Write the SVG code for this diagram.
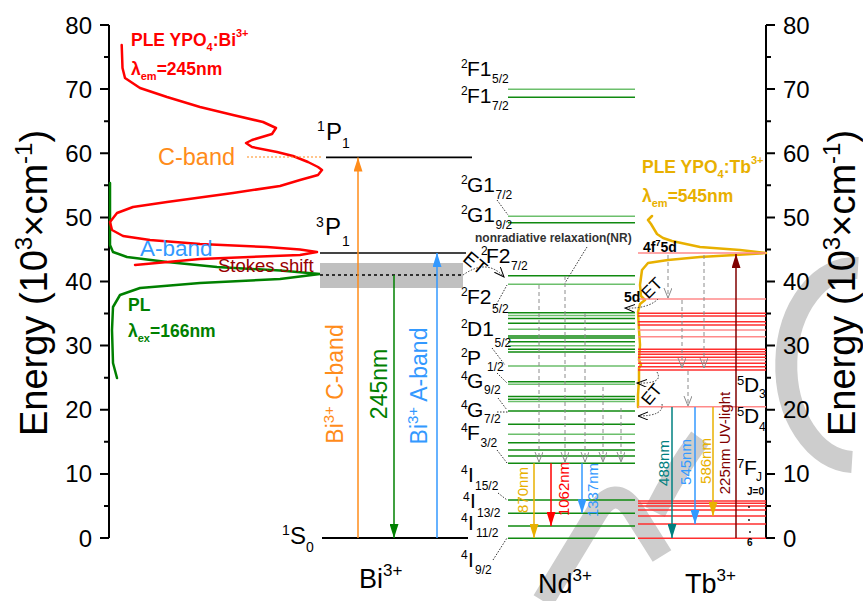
<svg xmlns="http://www.w3.org/2000/svg" width="863" height="601" viewBox="0 0 863 601">
<style>
  text { font-family: "Liberation Sans", Arial, sans-serif; fill: #000; }
  .tick { font-size: 24px; }
  .axt { font-size: 38px; }
  .lv { font-size: 21px; }
  .lvs { font-size: 12px; }
  .blv { font-size: 24px; }
  .blvs { font-size: 14px; }
  .bold { font-weight: bold; }
  .ax { stroke: #000; stroke-width: 2; fill: none; }
  .nd { stroke: #108a10; stroke-width: 1.6; }
  .ndl { stroke: #6cbf6c; stroke-width: 1.6; }
  .tb { stroke: #ff3030; stroke-width: 1.4; }
  .tbl { stroke: #ff8a8a; stroke-width: 1.6; }
  .lead { stroke: #333; stroke-width: 1; stroke-dasharray: 1.5 1.5; fill: none; }
  .nr { stroke: #8c8c8c; stroke-width: 1; stroke-dasharray: 4 3; fill: none; }
  .curve { fill: none; stroke-width: 2.5; stroke-linejoin: round; stroke-linecap: round; }
  .wm { fill: none; stroke: #cdcdcd; stroke-width: 22; stroke-linejoin: round; }
</style>
<defs>
  <marker id="ah-orange" markerUnits="userSpaceOnUse" markerWidth="14" markerHeight="9" refX="14" refY="4.5" orient="auto"><path d="M0,0 L14,4.5 L0,9 z" fill="#ff8c1a"/></marker>
  <marker id="ah-green" markerUnits="userSpaceOnUse" markerWidth="14" markerHeight="9" refX="14" refY="4.5" orient="auto"><path d="M0,0 L14,4.5 L0,9 z" fill="#008000"/></marker>
  <marker id="ah-blue" markerUnits="userSpaceOnUse" markerWidth="14" markerHeight="9" refX="14" refY="4.5" orient="auto"><path d="M0,0 L14,4.5 L0,9 z" fill="#3399ff"/></marker>
  <marker id="ah-gold" markerUnits="userSpaceOnUse" markerWidth="14" markerHeight="9" refX="14" refY="4.5" orient="auto"><path d="M0,0 L14,4.5 L0,9 z" fill="#e8b000"/></marker>
  <marker id="ah-red" markerUnits="userSpaceOnUse" markerWidth="14" markerHeight="9" refX="14" refY="4.5" orient="auto"><path d="M0,0 L14,4.5 L0,9 z" fill="#ff0000"/></marker>
  <marker id="ah-teal" markerUnits="userSpaceOnUse" markerWidth="14" markerHeight="9" refX="14" refY="4.5" orient="auto"><path d="M0,0 L14,4.5 L0,9 z" fill="#008080"/></marker>
  <marker id="ah-dred" markerUnits="userSpaceOnUse" markerWidth="14" markerHeight="9" refX="14" refY="4.5" orient="auto"><path d="M0,0 L14,4.5 L0,9 z" fill="#800000"/></marker>
  <marker id="ov-gray" markerUnits="userSpaceOnUse" markerWidth="12" markerHeight="9" refX="10" refY="4" orient="auto"><path d="M0,0 L10,4 L0,8" fill="none" stroke="#8c8c8c" stroke-width="1"/></marker>
  <marker id="ov-black" markerUnits="userSpaceOnUse" markerWidth="12" markerHeight="9" refX="10" refY="4" orient="auto"><path d="M0,0 L10,4 L0,8" fill="none" stroke="#000" stroke-width="1"/></marker>
</defs>

<rect width="863" height="601" fill="#fff"/>

<!-- faint background strokes -->
<g id="watermark">
  <path class="wm" d="M543,601 L597,512 Q615,484 633,510 L662,556"/>
  <path class="wm" d="M655,512 Q676,470 700,438"/>
  <path class="wm" d="M858,268 A68,96 0 0 0 852,462"/>
</g>

<!-- axes -->
<g id="axis-left">
  <path class="ax" d="M109,25 V538"/>
  <path class="ax" d="M100,25 H109 M100,89.1 H109 M100,153.2 H109 M100,217.4 H109 M100,281.5 H109 M100,345.6 H109 M100,409.8 H109 M100,473.9 H109 M100,538 H109"/>
  <path class="ax" d="M104,57 H109 M104,121.2 H109 M104,185.3 H109 M104,249.4 H109 M104,313.6 H109 M104,377.7 H109 M104,441.8 H109 M104,505.9 H109"/>
  <g text-anchor="end">
    <text class="tick" x="92" y="33.5">80</text>
    <text class="tick" x="92" y="97.6">70</text>
    <text class="tick" x="92" y="161.7">60</text>
    <text class="tick" x="92" y="225.9">50</text>
    <text class="tick" x="92" y="290">40</text>
    <text class="tick" x="92" y="354.1">30</text>
    <text class="tick" x="92" y="418.3">20</text>
    <text class="tick" x="92" y="482.4">10</text>
    <text class="tick" x="92" y="546.5">0</text>
  </g>
  <text class="axt" transform="translate(47,283) rotate(-90)" text-anchor="middle">Energy (10<tspan font-size="24" dy="-15">3</tspan><tspan dy="15">×cm</tspan><tspan font-size="24" dy="-15">-1</tspan><tspan dy="15">)</tspan></text>
</g>

<g id="axis-right">
  <path class="ax" d="M766,25 V538"/>
  <path class="ax" d="M766,25 H775 M766,89.1 H775 M766,153.2 H775 M766,217.4 H775 M766,281.5 H775 M766,345.6 H775 M766,409.8 H775 M766,473.9 H775 M766,538 H775"/>
  <path class="ax" d="M766,57 H771 M766,121.2 H771 M766,185.3 H771 M766,249.4 H771 M766,313.6 H771 M766,377.7 H771 M766,441.8 H771 M766,505.9 H771"/>
  <text class="tick" x="783" y="33.5">80</text>
  <text class="tick" x="783" y="97.6">70</text>
  <text class="tick" x="783" y="161.7">60</text>
  <text class="tick" x="783" y="225.9">50</text>
  <text class="tick" x="783" y="290">40</text>
  <text class="tick" x="783" y="354.1">30</text>
  <text class="tick" x="783" y="418.3">20</text>
  <text class="tick" x="783" y="482.4">10</text>
  <text class="tick" x="783" y="546.5">0</text>
  <text class="axt" transform="translate(855,283) rotate(-90)" text-anchor="middle">Energy (10<tspan font-size="24" dy="-15">3</tspan><tspan dy="15">×cm</tspan><tspan font-size="24" dy="-15">-1</tspan><tspan dy="15">)</tspan></text>
</g>

<!-- excitation / emission spectra -->
<g id="spectra">
  <polyline class="curve" stroke="#008000" points="110,183 110,245 113,252 127,257 167,262 217,267 280,270.5 320,274 280,279 200,283 140,288 120,295 113,307 112,330 113,363 117,378"/>
  <polyline class="curve" stroke="#ff0000" points="121.7,45 122.5,68 125,78 140,88 167,97 200,107 233,115 263,122 276,128 272,134 252,140 246,143 252,147 277,152 293,156 308,162 318,167 322,170 318,175 300,180 280,186 233,193 167,202 133,207 117,213 110,222 112,230 123,236 150,240 200,244 267,247 300,249.5 317,252 300,255 200,259 135,265"/>
  <polyline class="curve" stroke="#e8b000" stroke-width="2" points="652,216 648,220 651,224 654,229 657,234 663,238 672,241 700,247 740,250 766,253 735,255 700,257 668,260 648,263 642,270 640,285 641,296 645,300 640,304 638,312 639,330 640,345 639,360 641,365 639,368 639,380 638,395 638,407"/>
  <text class="bold" x="131" y="46" font-size="17.5" style="fill:#ff0000">PLE YPO<tspan font-size="11" dy="5">4</tspan><tspan dy="-5">:Bi</tspan><tspan font-size="11" dy="-9">3+</tspan></text>
  <text class="bold" x="131" y="75" font-size="17.5" style="fill:#ff0000">λ<tspan font-size="11" dy="5">em</tspan><tspan dy="-5">=245nm</tspan></text>
  <text class="bold" x="128" y="311" font-size="17.5" style="fill:#008000">PL</text>
  <text class="bold" x="128" y="337" font-size="17.5" style="fill:#008000">λ<tspan font-size="11" dy="5">ex</tspan><tspan dy="-5">=166nm</tspan></text>
  <text class="bold" x="642" y="173" font-size="17.5" style="fill:#e8b000">PLE YPO<tspan font-size="11" dy="5">4</tspan><tspan dy="-5">:Tb</tspan><tspan font-size="11" dy="-9">3+</tspan></text>
  <text class="bold" x="642" y="202" font-size="17.5" style="fill:#e8b000">λ<tspan font-size="11" dy="5">em</tspan><tspan dy="-5">=545nm</tspan></text>
  <text x="158" y="165" font-size="23.5" style="fill:#ff8c1a">C-band</text>
  <text x="140" y="256" font-size="22.5" style="fill:#3399ff">A-band</text>
  <text x="218" y="272" font-size="18.5" style="fill:#990000">Stokes shift</text>
  <path d="M247,157 H323" stroke="#ff8c1a" stroke-width="1.2" stroke-dasharray="2 2"/>
</g>

<!-- Bi3+ levels -->
<g id="bi-levels">
  <rect x="320" y="263" width="143" height="25" fill="#c0c0c0"/>
  <path d="M326,157.3 H472" stroke="#000" stroke-width="1.8"/>
  <path d="M320,253 H466" stroke="#444" stroke-width="2"/>
  <path d="M320,275 H463" stroke="#000" stroke-width="1.3" stroke-dasharray="3 3"/>
  <path d="M322,538 H468" stroke="#000" stroke-width="2"/>
  <text class="blvs" x="317" y="131">1</text><text class="blv" x="326" y="140">P</text><text class="blvs" x="342" y="148">1</text>
  <text class="blvs" x="316" y="227">3</text><text class="blv" x="325" y="235">P</text><text class="blvs" x="342" y="246">1</text>
  <text class="blvs" x="282" y="535">1</text><text class="blv" x="290" y="544">S</text><text class="blvs" x="306" y="552">0</text>
  <text x="359" y="588" font-size="27">Bi<tspan font-size="17" dy="-12">3+</tspan></text>
</g>

<!-- Nd3+ levels -->
<g id="nd-levels">
  <path class="ndl" d="M508,89.3 H635 M508,216.3 H635 M508,284.3 H635 M508,315.5 H635 M508,329.3 H635 M508,345.7 H635 M508,366 H635 M508,384.3 H635 M508,434.3 H635"/>
  <path class="ndl" stroke-width="2.5" d="M508,401.5 H635"/>
  <path class="nd" d="M508,97.3 H635 M508,222.8 H635 M508,275.7 H635 M508,318.5 H635 M508,323.3 H635 M508,336 H635 M508,341.7 H635 M508,349.3 H635 M508,381.7 H635 M508,396.5 H635 M508,399.2 H635 M508,411 H635 M508,424.3 H635 M508,442.7 H635 M508,450 H635 M508,456 H635 M508,463.3 H635 M508,500 H635 M508,513.3 H635 M508,526 H635 M508,538.3 H635"/>
  <path class="nd" stroke-width="2.4" d="M508,312.7 H635 M508,338 H635 M508,352 H635"/>
  <g>
    <text class="lvs" x="461" y="68">2</text><text class="lv" x="467" y="76">F1</text><text class="lvs" x="492" y="83">5/2</text>
    <text class="lvs" x="461" y="95">2</text><text class="lv" x="467" y="103">F1</text><text class="lvs" x="492" y="110">7/2</text>
    <text class="lvs" x="461" y="184">2</text><text class="lv" x="467" y="192">G1</text><text class="lvs" x="495.5" y="199">7/2</text>
    <text class="lvs" x="461" y="214">2</text><text class="lv" x="467" y="222">G1</text><text class="lvs" x="495.5" y="229">9/2</text>
    <text class="lvs" x="481" y="255">2</text><text class="lv" x="486" y="263">F2</text><text class="lvs" x="511" y="270">7/2</text>
    <text class="lvs" x="461" y="296">2</text><text class="lv" x="467" y="304">F2</text><text class="lvs" x="492" y="313">5/2</text>
    <text class="lvs" x="461" y="328">2</text><text class="lv" x="467" y="336">D1</text><text class="lvs" x="494.5" y="347">5/2</text>
    <text class="lvs" x="461" y="357">2</text><text class="lv" x="467" y="365">P</text><text class="lvs" x="487" y="371">1/2</text>
    <text class="lvs" x="461" y="380">4</text><text class="lv" x="467" y="388">G</text><text class="lvs" x="484" y="394">9/2</text>
    <text class="lvs" x="461" y="409">4</text><text class="lv" x="467" y="417">G</text><text class="lvs" x="484" y="423">7/2</text>
    <text class="lvs" x="461" y="432">4</text><text class="lv" x="467" y="440">F</text><text class="lvs" x="480.5" y="447">3/2</text>
    <text class="lvs" x="461" y="474">4</text><text class="lv" x="468" y="482">I</text><text class="lvs" x="475" y="490">15/2</text>
    <text class="lvs" x="463" y="501">4</text><text class="lv" x="470" y="508">I</text><text class="lvs" x="477" y="517">13/2</text>
    <text class="lvs" x="461" y="522">4</text><text class="lv" x="468" y="530">I</text><text class="lvs" x="476" y="537">11/2</text>
    <text class="lvs" x="461" y="559">4</text><text class="lv" x="468" y="567">I</text><text class="lvs" x="475" y="574">9/2</text>
  </g>
  <text class="bold" x="475" y="242" font-size="12" style="fill:#333">nonradiative relaxation(NR)</text>
  <text x="538" y="593" font-size="27">Nd<tspan font-size="17" dy="-12">3+</tspan></text>
</g>

<!-- Tb3+ levels -->
<g id="tb-levels">
  <path class="tbl" stroke-width="2.4" d="M638,253 H766"/>
  <path class="tbl" d="M638,299 H766 M638,330 H766 M638,336.7 H766 M638,360 H766 M638,406.7 H766"/>
  <path class="tb" d="M638,316 H766 M638,321.7 H766 M638,325 H766 M638,349.3 H766 M638,351.7 H766 M638,354.3 H766 M638,357.3 H766 M638,363.3 H766 M638,366.7 H766 M638,501 H766 M638,503.3 H766 M638,506 H766 M638,510 H766 M638,516 H766 M638,524 H766 M638,538.3 H766"/>
  <path class="tb" stroke-width="2.6" d="M638,313.3 H766 M638,370 H766"/>
  <text x="737" y="385" font-size="13">5</text><text x="744" y="392" font-size="21">D</text><text class="lvs" x="759" y="398">3</text>
  <text x="737" y="416" font-size="13">5</text><text x="744" y="423" font-size="21">D</text><text class="lvs" x="759" y="431">4</text>
  <text x="737" y="468" font-size="13">7</text><text x="744" y="475" font-size="21">F</text><text class="lvs" x="756" y="481">J</text>
  <text class="bold" x="747" y="495" font-size="10">J=0</text>
  <circle cx="749" cy="507" r="0.9"/><circle cx="749" cy="520" r="0.9"/><circle cx="750" cy="532" r="0.9"/>
  <text class="bold" x="747" y="546" font-size="10">6</text>
  <text class="bold" x="643" y="252" font-size="14">4f<tspan font-size="9" dy="-6">7</tspan><tspan dy="6">5d</tspan></text>
  <text class="bold" x="624" y="302" font-size="14">5d</text>
  <text x="685" y="593" font-size="27">Tb<tspan font-size="17" dy="-12">3+</tspan></text>
</g>

<!-- connectors -->
<g id="connectors">
  <!-- Bi3+ transitions -->
  <line x1="358" y1="538" x2="358" y2="157.5" stroke="#ff8c1a" stroke-width="1.5" marker-end="url(#ah-orange)"/>
  <line x1="394" y1="275" x2="394" y2="538" stroke="#008000" stroke-width="1.5" marker-end="url(#ah-green)"/>
  <line x1="437" y1="538" x2="437" y2="253" stroke="#3399ff" stroke-width="1.5" marker-end="url(#ah-blue)"/>
  <text transform="translate(343,384) rotate(-90)" text-anchor="middle" font-size="23" style="fill:#ff8c1a">Bi<tspan font-size="15" dy="-9">3+</tspan><tspan dy="9"> C-band</tspan></text>
  <text transform="translate(387,384) rotate(-90)" text-anchor="middle" font-size="23" style="fill:#008000">245nm</text>
  <text transform="translate(427,386) rotate(-90)" text-anchor="middle" font-size="23" style="fill:#3399ff">Bi<tspan font-size="15" dy="-9">3+</tspan><tspan dy="9"> A-band</tspan></text>

  <!-- energy transfer Bi -> Nd -->
  <path class="lead" d="M463,275 Q487,258 504,277" marker-end="url(#ov-black)"/>
  <text transform="translate(471,268) rotate(40)" text-anchor="middle" font-size="19">ET</text>

  <!-- label leaders -->
  <path class="lead" d="M497,200 L508,215 M495,307 L507,285 M492,348 L505,365 M497,373 L507,383 M498,398 L507,410 M497,412 H508 M497,450 L507,463 M498,493 L507,500 M493,560 L507,538 M587,247 L565,283"/>

  <!-- nonradiative relaxation -->
  <path class="nr" d="M539,285 V462" marker-end="url(#ov-gray)"/>
  <path class="nr" d="M565,276 V462" marker-end="url(#ov-gray)"/>
  <path class="nr" d="M585,313 V462" marker-end="url(#ov-gray)"/>
  <path class="nr" d="M603,387 V462" marker-end="url(#ov-gray)"/>
  <path class="nr" d="M621,408 V462" marker-end="url(#ov-gray)"/>
  <path class="nr" d="M668,255 V298" marker-end="url(#ov-gray)"/>
  <path class="nr" d="M682,300 V368" marker-end="url(#ov-gray)"/>
  <path class="nr" d="M704,255 V368" marker-end="url(#ov-gray)"/>
  <path class="nr" d="M688,371 V406" marker-end="url(#ov-gray)"/>

  <!-- Nd3+ emission -->
  <line x1="534" y1="463.3" x2="534" y2="538" stroke="#e8b000" stroke-width="1.5" marker-end="url(#ah-gold)"/>
  <line x1="551" y1="463.3" x2="551" y2="526" stroke="#ff0000" stroke-width="1.5" marker-end="url(#ah-red)"/>
  <line x1="582" y1="463.3" x2="582" y2="513.3" stroke="#3399ff" stroke-width="1.5" marker-end="url(#ah-blue)"/>
  <text transform="translate(528,490) rotate(-90)" text-anchor="middle" font-size="15" style="fill:#e8b000">870nm</text>
  <text transform="translate(569,489) rotate(-90)" text-anchor="middle" font-size="15" style="fill:#ff0000">1062nm</text>
  <text transform="translate(598,490) rotate(-90)" text-anchor="middle" font-size="15" style="fill:#3399ff">1337nm</text>

  <!-- energy transfer Tb -> Nd -->
  <path class="lead" d="M658,299 Q648,309 625,308" marker-end="url(#ov-black)"/>
  <text transform="translate(656,292) rotate(-45)" text-anchor="middle" font-size="17">ET</text>
  <path class="lead" d="M657,372 Q664,384 637,383" marker-end="url(#ov-black)"/>
  <path class="lead" d="M662,404 Q664,416 638,416" marker-end="url(#ov-black)"/>
  <text transform="translate(656,398) rotate(-50)" text-anchor="middle" font-size="17">ET</text>

  <!-- Tb3+ transitions -->
  <line x1="736" y1="538" x2="736" y2="254" stroke="#800000" stroke-width="1.5" marker-end="url(#ah-dred)"/>
  <line x1="672" y1="407" x2="672" y2="538" stroke="#008080" stroke-width="1.5" marker-end="url(#ah-teal)"/>
  <line x1="695" y1="407" x2="695" y2="524" stroke="#3399ff" stroke-width="1.5" marker-end="url(#ah-blue)"/>
  <line x1="713" y1="407" x2="713" y2="516" stroke="#e8b000" stroke-width="1.5" marker-end="url(#ah-gold)"/>
  <text transform="translate(669,463) rotate(-90)" text-anchor="middle" font-size="15" style="fill:#008080">488nm</text>
  <text transform="translate(691,462) rotate(-90)" text-anchor="middle" font-size="15" style="fill:#3399ff">545nm</text>
  <text transform="translate(711,461) rotate(-90)" text-anchor="middle" font-size="15" style="fill:#e8b000">586nm</text>
  <text transform="translate(730,443) rotate(-90)" text-anchor="middle" font-size="15" style="fill:#800000">225nm UV-light</text>
</g>
</svg>
